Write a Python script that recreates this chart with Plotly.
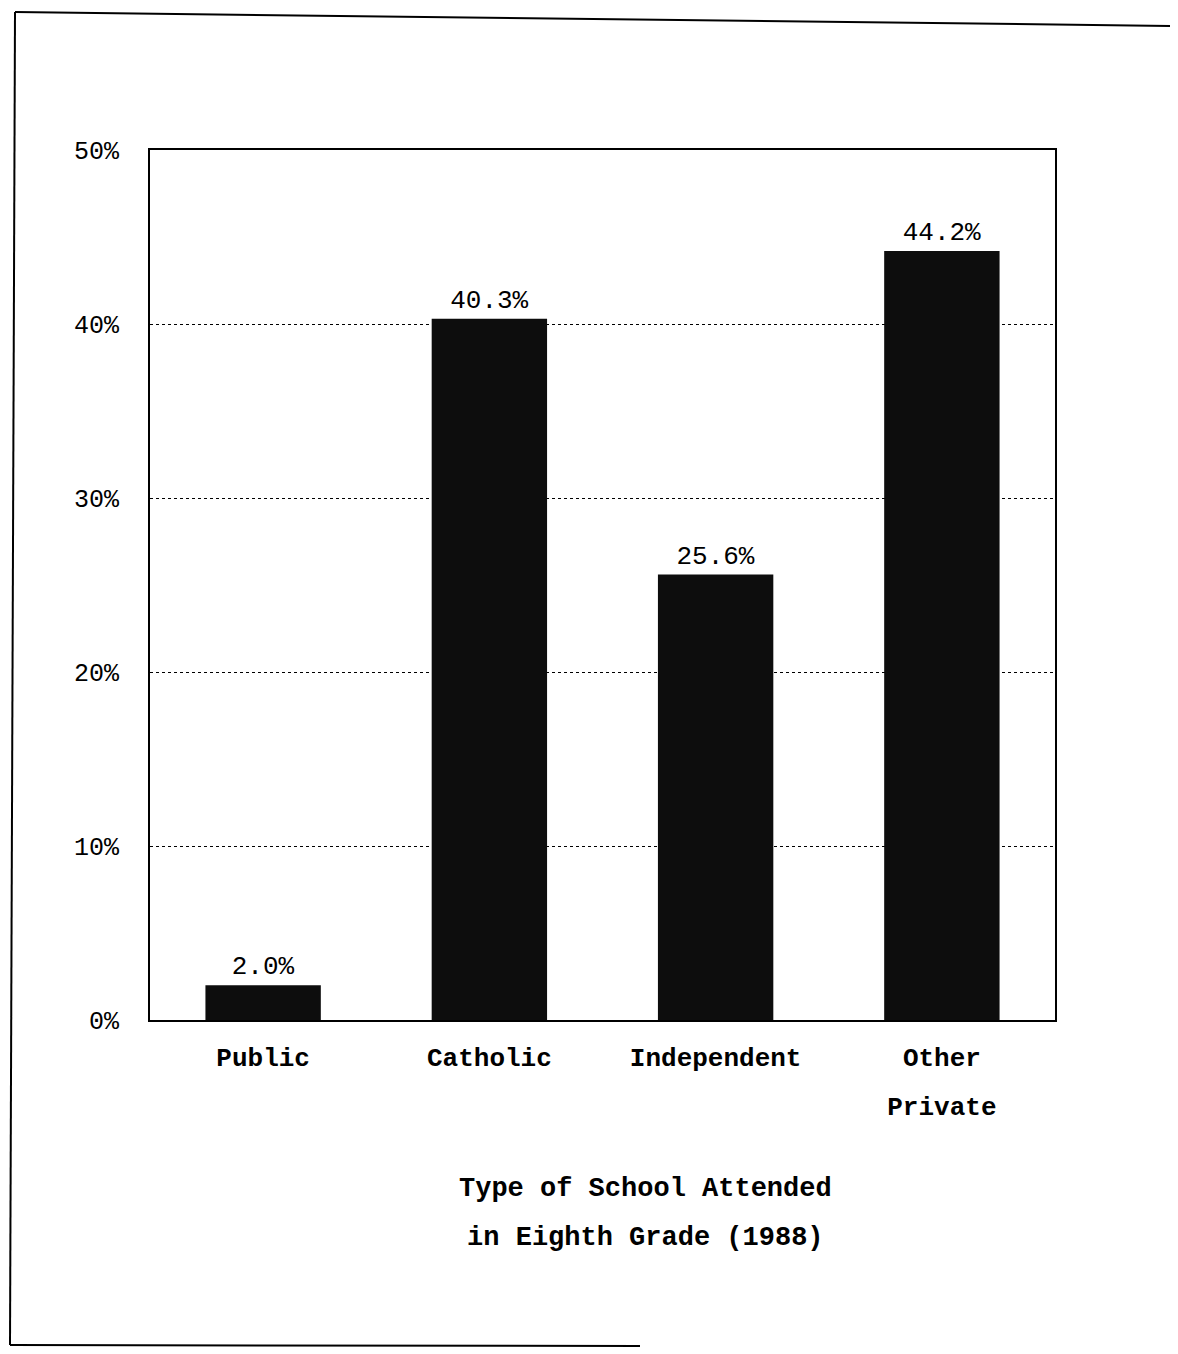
import plotly.graph_objects as go

categories = ["Public", "Catholic", "Independent", "Other Private"]
tick_text = ["Public", "Catholic", "Independent", "Other<br>Private"]
values = [2.0, 40.3, 25.6, 44.2]
y_ticks = [0, 10, 20, 30, 40, 50]
y_tick_labels = ["0%", "10%", "20%", "30%", "40%", "50%"]
x_title_lines = ["Type of School Attended", "in Eighth Grade (1988)"]

MONO = "Liberation Mono, Courier New, monospace"

fig = go.Figure()
fig.add_trace(go.Bar(
    x=categories,
    y=values,
    width=0.51,
    marker=dict(color="#0d0d0d", line=dict(width=0)),
    text=[f"{v:.1f}%" for v in values],
    textposition="outside",
    textfont=dict(family=MONO, size=26, color="black"),
    cliponaxis=False,
))

def spaced(lines, size):
    return "<br>".join(f"<span style='font-size:{size}px'>{l}</span>" for l in lines)

fig.update_xaxes(
    tickmode="array",
    tickvals=categories,
    ticktext=["<b>" + spaced(t.split("<br>"), 26) + "</b>" for t in tick_text],
    tickfont=dict(family=MONO, size=37, color="black"),
    showline=True, linecolor="black", linewidth=2, mirror=True,
    ticks="", showgrid=False,
    range=[-0.5, 3.5],
)
fig.update_yaxes(
    range=[0, 50],
    tickmode="array",
    tickvals=y_ticks,
    ticktext=y_tick_labels,
    tickfont=dict(family=MONO, size=25, color="black"),
    showline=True, linecolor="black", linewidth=2, mirror=True,
    ticks="", ticklabelstandoff=24,
    showgrid=True, gridcolor="black", gridwidth=1.2, griddash="dot",
    zeroline=False,
)

fig.add_annotation(
    xref="paper", yref="paper", x=0.547, y=-0.222,
    xanchor="center", yanchor="middle",
    text="<b>" + spaced(x_title_lines, 27) + "</b>",
    font=dict(family=MONO, size=38, color="black"),
    showarrow=False, align="center",
)

# page offset (browser body margin) compensation
OFF = 8
W, H = 1178, 1354
L, R, T, B = 150 - OFF, 123 + OFF, 150 - OFF, 334 + OFF
pw, ph = W - L - R, H - T - B
def px(x):
    return (x - OFF - L) / pw
def py(y):
    return (H - B - (y - OFF)) / ph
frame = dict(color="black", width=2)
fig.add_shape(type="line", xref="paper", yref="paper", x0=px(15), y0=py(12), x1=px(1178), y1=py(26), line=frame)
fig.add_shape(type="line", xref="paper", yref="paper", x0=px(15), y0=py(12), x1=px(10), y1=py(1345), line=frame)
fig.add_shape(type="line", xref="paper", yref="paper", x0=px(10), y0=py(1345), x1=px(640), y1=py(1346), line=frame)

fig.update_layout(
    width=W, height=H,
    margin=dict(l=L, r=R, t=T, b=B),
    paper_bgcolor="white", plot_bgcolor="white",
    showlegend=False,
    bargap=0.49,
)

fig.write_html("out.html")
